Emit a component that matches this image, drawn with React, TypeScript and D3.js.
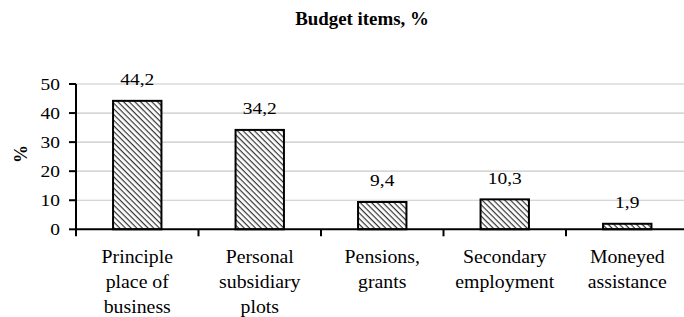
import React from "react";
import * as d3 from "d3";

const categories: string[][] = [
  ["Principle", "place of", "business"],
  ["Personal", "subsidiary", "plots"],
  ["Pensions,", "grants"],
  ["Secondary", "employment"],
  ["Moneyed", "assistance"],
];
const values: number[] = [44.2, 34.2, 9.4, 10.3, 1.9];
const valueLabels: string[] = ["44,2", "34,2", "9,4", "10,3", "1,9"];
const yTicks: number[] = [0, 10, 20, 30, 40, 50];
const title = "Budget items, %";
const yLabel = "%";

const W = 684;
const H = 317;
const left = 76;
const right = 688.5;
const top = 84;
const bottom = 229.3;
const ff = { fontFamily: "Liberation Serif" };
const SX = 1.18;

export default function App() {
  const x = d3
    .scaleBand<number>()
    .domain(categories.map((_, i) => i))
    .range([left, right])
    .padding(0);
  const y = d3.scaleLinear().domain([0, 50]).range([bottom, top]);
  const bw = x.bandwidth() * 0.395;

  return (
    <svg width={W} height={H} style={{ position: "absolute", left: 0, top: 0, background: "#fff" }}>
      <defs>
        <pattern
          id="hatch"
          patternUnits="userSpaceOnUse"
          width={4}
          height={4}
          patternTransform="rotate(45)"
        >
          <rect width={4} height={4} fill="#fff" />
          <line x1={0} y1={0} x2={4} y2={0} stroke="#333" strokeWidth={2.4} />
        </pattern>
      </defs>
      <text
        transform="translate(362,25) scale(1.05,1)"
        textAnchor="middle"
        fontWeight="bold"
        fontSize={18}
        style={ff}
      >
        {title}
      </text>
      {yTicks
        .filter((t) => t > 0)
        .map((t) => (
          <line key={"g" + t} x1={left} x2={W} y1={y(t)} y2={y(t)} stroke="#c8c8c8" strokeWidth={1.2} />
        ))}
      {values.map((v, i) => {
        const cx = (x(i) as number) + x.bandwidth() / 2;
        return (
          <g key={"b" + i}>
            <rect
              x={cx - bw / 2}
              y={y(v)}
              width={bw}
              height={bottom - y(v)}
              fill="url(#hatch)"
              stroke="#000"
              strokeWidth={2}
            />
            <text
              transform={`translate(${cx},${y(v) - 15.5}) scale(${SX},1)`}
              textAnchor="middle"
              fontSize={16.5}
              style={ff}
            >
              {valueLabels[i]}
            </text>
          </g>
        );
      })}
      <line x1={left} x2={left} y1={top} y2={bottom} stroke="#000" strokeWidth={2} />
      {yTicks.map((t) => (
        <g key={"t" + t}>
          <line x1={left - 7} x2={left} y1={y(t)} y2={y(t)} stroke="#000" strokeWidth={2} />
          <text
            transform={`translate(${left - 16},${y(t) + 5.5}) scale(${SX},1)`}
            textAnchor="end"
            fontSize={16.5}
            style={ff}
          >
            {t}
          </text>
        </g>
      ))}
      <line x1={left} x2={W} y1={bottom} y2={bottom} stroke="#000" strokeWidth={2} />
      {categories.map((_, i) => (
        <line
          key={"xt" + i}
          x1={x(i) as number}
          x2={x(i) as number}
          y1={bottom}
          y2={bottom + 7}
          stroke="#000"
          strokeWidth={2}
        />
      ))}
      {categories.map((lines, i) => {
        const cx = (x(i) as number) + x.bandwidth() / 2;
        return (
          <text
            key={"c" + i}
            transform={`translate(${cx},263) scale(1.1,1)`}
            textAnchor="middle"
            fontSize={18}
            style={ff}
          >
            {lines.map((l, j) => (
              <tspan key={j} x={0} y={j * 25}>
                {l}
              </tspan>
            ))}
          </text>
        );
      })}
      <text
        transform="translate(27,154) rotate(-90)"
        textAnchor="middle"
        fontWeight="bold"
        fontSize={18}
        style={ff}
      >
        {yLabel}
      </text>
    </svg>
  );
}
